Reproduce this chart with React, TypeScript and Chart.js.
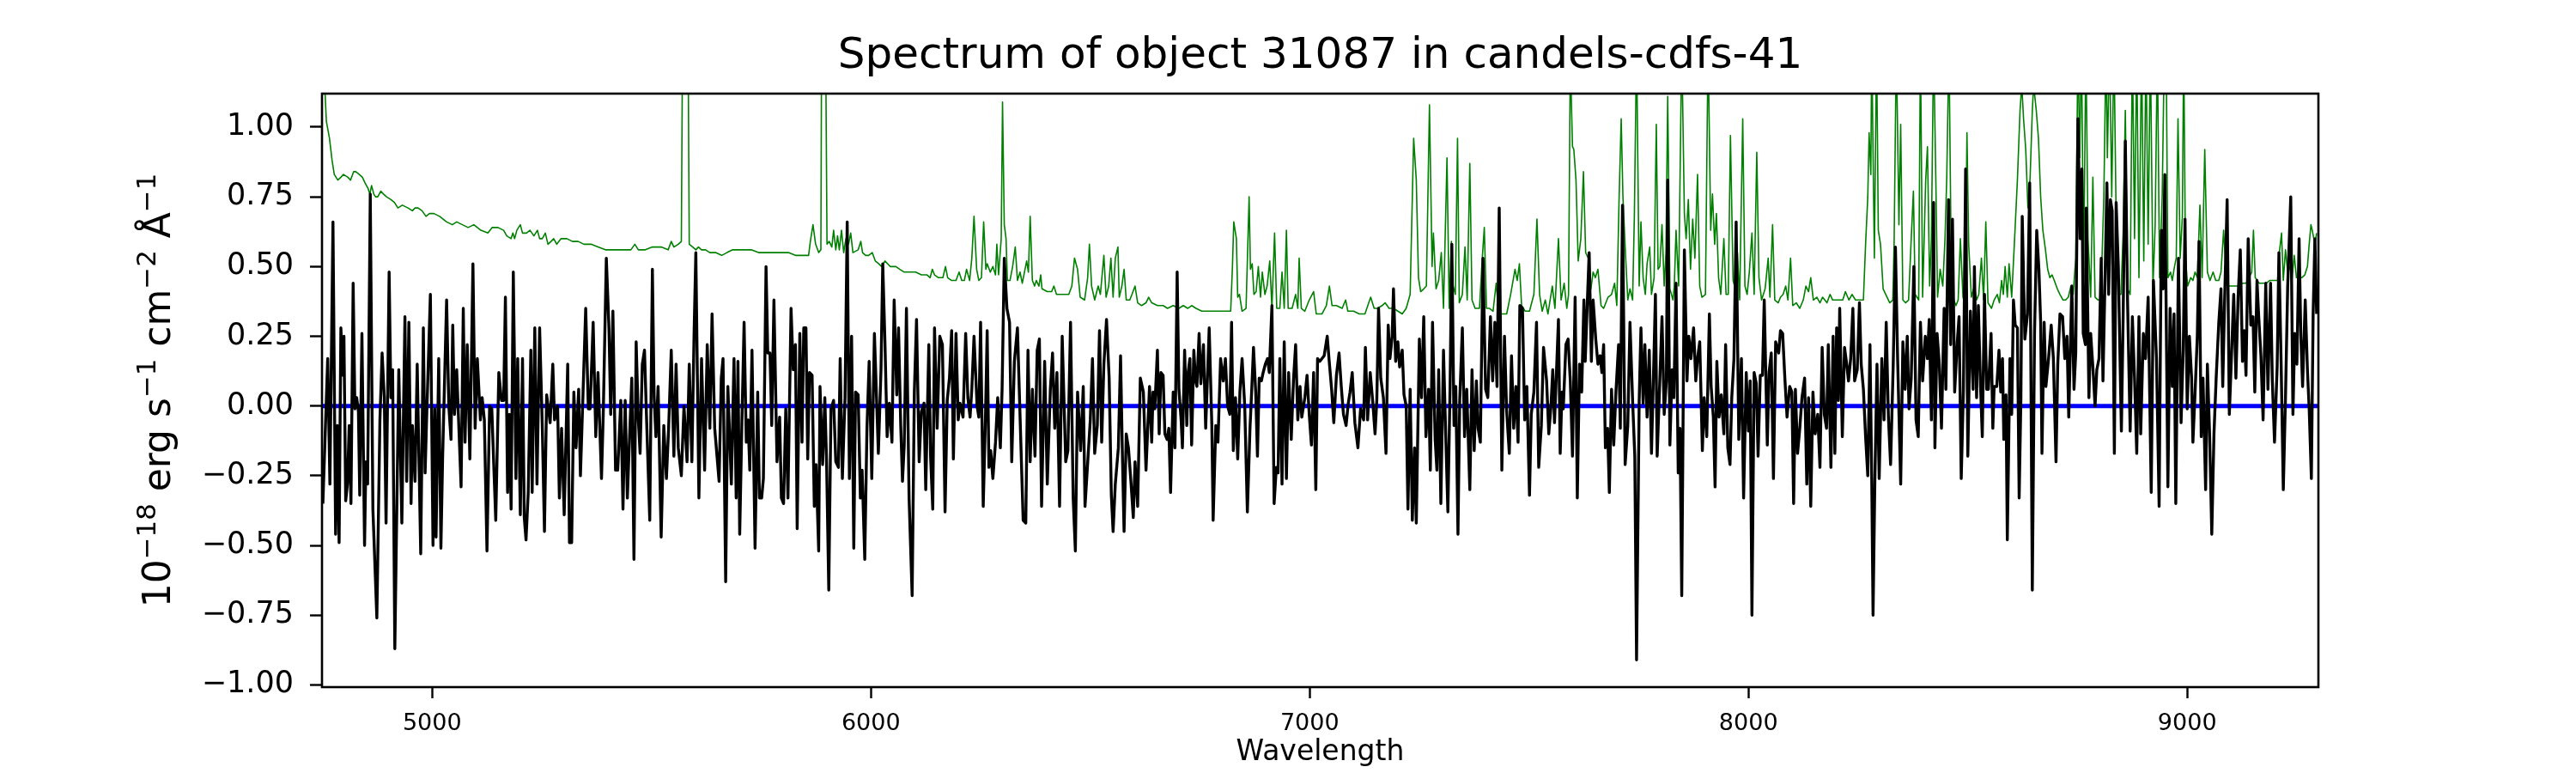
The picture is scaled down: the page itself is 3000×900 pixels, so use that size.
import React, { useEffect, useRef } from 'react';
import { Chart, registerables } from 'chart.js';

Chart.register(...registerables);

const FONT = "'DejaVu Sans', 'Liberation Sans', sans-serif";
const TITLE = 'Spectrum of object 31087 in candels-cdfs-41';
const X_LABEL = 'Wavelength';
const Y_LABEL_PARTS: { text: string; sup: boolean }[] = [
  { text: '10', sup: false },
  { text: '\u221218', sup: true },
  { text: ' erg s', sup: false },
  { text: '\u22121', sup: true },
  { text: ' cm', sup: false },
  { text: '\u22122', sup: true },
  { text: ' \u00C5', sup: false },
  { text: '\u22121', sup: true },
];
const X_TICKS = [5000, 6000, 7000, 8000, 9000];
const Y_TICKS = [-1, -0.75, -0.5, -0.25, 0, 0.25, 0.5, 0.75, 1];
const X_RANGE = [4749, 9299];
const Y_RANGE = [-1.008, 1.12];

// observed flux (black)
const fluxPoints: [number, number][] = [
[4751,-0.35],[4762,0.17],[4767,-0.28],[4774,0.66],[4780,-0.46],[4784,-0.07],[4788,-0.49],[4792,0.28],[4797,0.11],[4799,0.25],[4803,-0.34],[4807,-0.28],[4811,-0.07],[4815,-0.35],[4820,0.44],[4824,-0.01],[4828,0.03],[4832,-0.02],[4835,-0.32],[4840,0.26],[4846,-0.50],[4849,-0.20],[4853,-0.28],[4859,0.76],[4865,-0.37],[4874,-0.76],[4881,-0.05],[4886,0.19],[4891,0.03],[4895,-0.42],[4902,0.48],[4906,0.03],[4910,0.13],[4915,-0.87],[4924,0.13],[4931,-0.42],[4938,0.32],[4942,-0.27],[4947,0.30],[4952,-0.35],[4955,-0.07],[4961,-0.27],[4966,0.15],[4974,-0.53],[4980,0.28],[4984,-0.24],[4987,-0.07],[4996,0.40],[5002,-0.50],[5006,-0.01],[5009,-0.47],[5015,0.17],[5020,-0.51],[5024,-0.18],[5033,0.38],[5038,0.00],[5043,-0.12],[5047,0.29],[5051,-0.03],[5056,0.13],[5066,-0.29],[5071,0.35],[5075,-0.13],[5080,0.22],[5086,-0.19],[5093,0.51],[5098,-0.08],[5103,0.17],[5110,-0.05],[5114,0.03],[5119,-0.05],[5125,-0.52],[5131,0.00],[5136,-0.01],[5140,-0.19],[5145,-0.41],[5152,0.12],[5158,0.02],[5163,0.02],[5167,0.39],[5172,-0.31],[5176,-0.03],[5180,-0.37],[5185,0.48],[5191,-0.26],[5195,0.17],[5201,-0.39],[5206,0.17],[5210,-0.40],[5214,-0.48],[5219,-0.31],[5225,0.20],[5228,-0.31],[5234,0.28],[5239,-0.28],[5245,0.28],[5251,-0.07],[5256,-0.45],[5261,0.04],[5269,-0.06],[5275,0.15],[5279,-0.05],[5286,0.00],[5290,-0.33],[5295,-0.08],[5301,-0.39],[5309,0.15],[5313,-0.49],[5318,-0.49],[5323,0.05],[5328,-0.15],[5334,0.06],[5338,-0.25],[5344,0.05],[5350,0.35],[5356,-0.01],[5360,-0.01],[5367,0.30],[5373,-0.11],[5378,0.12],[5386,-0.26],[5390,-0.03],[5397,0.53],[5403,0.28],[5407,-0.03],[5412,0.34],[5418,-0.23],[5423,-0.23],[5430,0.02],[5435,-0.37],[5440,0.02],[5445,-0.33],[5450,-0.11],[5455,0.10],[5460,-0.55],[5465,0.23],[5470,-0.05],[5474,-0.17],[5479,0.15],[5484,0.20],[5489,-0.06],[5496,-0.41],[5502,0.49],[5506,0.03],[5510,-0.11],[5515,0.07],[5522,-0.47],[5528,-0.07],[5534,-0.26],[5539,-0.08],[5545,0.20],[5551,-0.18],[5556,0.15],[5561,-0.15],[5568,-0.25],[5574,0.00],[5581,-0.20],[5586,0.15],[5592,-0.20],[5597,0.26],[5601,0.55],[5608,-0.33],[5614,0.17],[5621,-0.23],[5627,0.22],[5633,-0.08],[5638,0.33],[5644,-0.08],[5654,-0.27],[5659,0.10],[5663,0.17],[5669,-0.63],[5674,0.07],[5682,-0.28],[5688,0.17],[5693,-0.33],[5697,0.16],
[5701,-0.46],[5706,-0.06],[5711,0.30],[5716,-0.13],[5720,-0.05],[5724,-0.23],[5729,0.20],[5736,-0.51],[5742,0.05],[5746,-0.33],[5751,-0.33],[5755,-0.26],[5761,0.50],[5765,0.19],[5770,0.19],[5774,-0.07],[5779,0.38],[5786,-0.20],[5792,-0.04],[5796,-0.33],[5801,-0.35],[5806,-0.01],[5811,-0.33],[5818,0.35],[5823,0.13],[5828,0.22],[5832,-0.44],[5838,0.26],[5843,-0.13],[5847,0.28],[5852,0.28],[5856,-0.19],[5860,0.12],[5866,0.11],[5871,-0.36],[5875,-0.21],[5881,-0.52],[5884,0.07],[5890,-0.21],[5895,0.03],[5899,-0.20],[5904,-0.66],[5909,-0.01],[5915,0.02],[5920,-0.20],[5926,-0.22],[5930,0.17],[5935,-0.26],[5941,0.03],[5946,0.66],[5951,-0.26],[5956,0.25],[5961,-0.51],[5965,0.05],[5971,0.04],[5976,-0.33],[5980,-0.23],[5986,-0.55],[5991,-0.08],[5996,0.16],[6002,-0.26],[6008,0.26],[6012,0.07],[6017,-0.17],[6023,0.13],[6027,0.51],[6032,0.23],[6037,-0.11],[6042,0.01],[6048,-0.13],[6053,0.38],[6059,0.04],[6063,0.28],[6068,-0.07],[6072,-0.27],[6076,-0.14],[6081,0.35],[6087,-0.33],[6094,-0.68],[6099,0.05],[6104,0.31],[6110,-0.20],[6115,-0.02],[6121,0.01],[6125,-0.30],[6132,0.22],[6136,-0.18],[6141,-0.37],[6145,0.28],[6151,-0.08],[6157,0.25],[6163,0.22],[6169,-0.38],[6174,0.02],[6179,0.10],[6184,0.27],[6188,-0.19],[6194,0.26],[6199,-0.05],[6203,0.01],[6210,-0.04],[6216,0.26],[6221,0.03],[6226,-0.04],[6230,0.06],[6235,0.25],[6242,0.00],[6246,-0.04],[6250,0.30],[6256,-0.36],[6261,-0.05],[6265,0.27],[6269,-0.22],[6273,-0.16],[6278,-0.26],[6284,-0.13],[6289,0.03],[6295,-0.15],[6299,0.06],[6304,0.53],[6310,0.35],[6316,0.30],[6321,-0.20],[6327,0.16],[6334,0.28],[6340,-0.04],[6347,-0.41],[6353,-0.42],[6358,0.20],[6363,-0.20],[6368,0.06],[6374,-0.18],[6379,0.20],[6384,0.24],[6389,-0.36],[6396,0.16],[6402,-0.28],[6409,0.06],[6414,0.19],[6419,-0.08],[6424,0.12],[6430,-0.36],[6436,0.25],[6444,-0.20],[6449,-0.16],[6455,0.30],[6461,-0.33],[6466,-0.52],[6471,0.05],[6478,-0.16],[6484,0.07],[6488,-0.36],[6495,-0.18],[6500,-0.05],[6505,0.17],[6510,-0.17],[6516,-0.07],[6521,0.27],[6526,-0.13],[6531,0.15],[6537,0.31],[6543,0.10],[6548,-0.32],[6552,-0.45],[6557,-0.28],[6564,-0.15],[6569,0.18],[6573,-0.16],[6577,-0.45],[6582,-0.10],[6587,-0.15],[6593,-0.28],[6598,-0.40],[6602,-0.20],[6608,-0.36],[6614,0.10],[6621,0.05],[6627,-0.23],[6635,0.07],
[6640,-0.13],[6643,0.05],[6647,-0.01],[6653,0.20],[6657,-0.10],[6661,0.12],[6666,0.11],[6670,-0.10],[6675,-0.12],[6679,-0.08],[6683,-0.31],[6689,0.05],[6693,-0.15],[6698,0.48],[6702,0.06],[6707,-0.05],[6710,-0.15],[6715,0.20],[6720,-0.07],[6723,0.12],[6727,0.17],[6731,-0.14],[6736,0.20],[6740,0.09],[6743,0.07],[6748,0.26],[6752,0.08],[6758,0.22],[6763,-0.08],[6771,0.28],[6777,-0.07],[6780,-0.41],[6786,-0.07],[6791,-0.13],[6797,0.17],[6803,0.09],[6808,0.17],[6813,0.00],[6818,-0.03],[6822,0.30],[6826,-0.16],[6831,0.03],[6836,-0.19],[6841,0.05],[6846,0.17],[6852,0.00],[6858,-0.38],[6864,-0.08],[6868,0.06],[6872,0.21],[6877,0.05],[6881,-0.18],[6885,0.10],[6890,0.09],[6894,0.12],[6899,0.15],[6904,0.17],[6908,0.12],[6914,0.36],[6919,-0.35],[6924,-0.22],[6928,-0.24],[6932,0.17],[6937,-0.28],[6942,0.23],[6947,-0.26],[6952,0.12],[6958,-0.12],[6963,0.09],[6968,0.22],[6973,-0.05],[6978,0.07],[6982,-0.04],[6989,0.03],[6994,0.11],[6999,-0.03],[7004,-0.14],[7009,0.12],[7014,-0.30],[7018,0.17],[7023,0.16],[7028,0.17],[7033,0.18],[7040,0.25],[7044,0.17],[7050,0.06],[7055,-0.06],[7061,0.11],[7067,0.19],[7072,0.07],[7077,-0.03],[7083,-0.07],[7088,0.01],[7092,0.05],[7097,0.12],[7103,-0.06],[7110,-0.15],[7116,-0.01],[7123,-0.05],[7127,0.21],[7132,-0.05],[7138,0.12],[7144,0.01],[7149,-0.10],[7153,0.02],[7157,0.35],[7162,0.10],[7168,0.03],[7174,-0.17],[7179,0.29],[7183,0.17],[7188,0.25],[7191,0.42],[7196,0.16],[7201,0.23],[7205,0.14],[7211,0.20],[7215,0.04],[7220,0.00],[7224,-0.37],[7229,0.06],[7234,-0.41],[7239,-0.15],[7243,-0.42],[7250,0.24],[7255,0.03],[7260,0.32],[7265,-0.11],[7271,0.06],[7275,-0.23],[7280,0.30],[7286,-0.12],[7290,-0.23],[7294,0.13],[7299,-0.35],[7305,0.20],[7310,-0.10],[7315,-0.38],[7320,0.07],[7324,0.58],[7329,-0.07],[7333,0.07],[7338,-0.46],[7342,0.02],[7348,0.28],[7353,-0.11],[7358,0.06],[7365,-0.30],[7370,0.13],[7375,-0.16],[7380,0.09],[7384,-0.08],[7389,-0.13],[7395,0.53],[7401,0.06],[7406,0.03],[7412,0.32],[7417,0.09],[7422,0.30],[7427,0.07],[7432,0.71],[7438,-0.23],[7444,0.25],[7449,-0.02],[7455,-0.17],[7460,0.18],[7465,-0.08],[7470,0.07],[7475,-0.13],[7479,0.36],[7485,0.35],[7490,-0.05],[7495,0.07],[7501,-0.32],[7505,-0.03],[7511,0.05],[7517,0.30],[7522,-0.22],[7528,-0.07],[7533,0.21],[7540,0.09],[7545,-0.10],[7550,0.00],[7554,0.13],[7558,-0.06],[7561,0.06],[7567,0.31],[7571,-0.17],[7575,0.05],
[7578,-0.01],[7584,0.22],[7589,0.24],[7594,0.09],[7599,-0.18],[7605,0.39],[7610,-0.33],[7615,0.15],[7620,0.05],[7625,0.38],[7628,0.16],[7633,0.38],[7637,0.55],[7642,0.16],[7646,0.38],[7652,0.24],[7657,0.15],[7662,0.18],[7666,0.12],[7670,0.22],[7674,-0.15],[7679,-0.08],[7683,-0.31],[7688,0.06],[7693,-0.14],[7698,0.05],[7704,0.22],[7708,-0.08],[7713,0.72],[7719,-0.21],[7725,-0.07],[7730,0.30],[7736,0.02],[7741,-0.18],[7745,-0.91],[7751,0.02],[7755,0.28],[7760,0.01],[7764,0.22],[7769,-0.04],[7774,0.20],[7779,-0.17],[7785,0.20],[7788,0.40],[7792,-0.18],[7798,0.09],[7803,0.32],[7808,-0.03],[7813,0.09],[7816,0.81],[7821,-0.14],[7826,0.13],[7830,0.03],[7835,0.44],[7840,-0.24],[7844,-0.08],[7848,-0.68],[7854,0.56],[7860,0.09],[7864,0.25],[7869,0.17],[7875,0.28],[7880,0.09],[7884,0.17],[7889,0.23],[7895,-0.16],[7899,0.03],[7905,-0.11],[7911,0.33],[7915,0.07],[7920,-0.04],[7924,-0.29],[7928,0.16],[7933,-0.04],[7938,0.04],[7944,-0.10],[7948,0.22],[7953,-0.15],[7958,-0.21],[7962,0.03],[7967,0.17],[7972,0.66],[7978,-0.12],[7984,0.17],[7989,-0.33],[7995,0.12],[8000,-0.09],[8004,0.09],[8008,-0.75],[8013,0.12],[8018,0.08],[8022,-0.18],[8027,0.11],[8032,0.11],[8036,0.38],[8043,-0.14],[8047,0.12],[8052,0.19],[8057,-0.26],[8062,0.23],[8069,0.19],[8073,0.27],[8078,0.26],[8083,0.10],[8088,-0.04],[8094,0.07],[8099,0.05],[8103,-0.35],[8107,0.06],[8112,-0.17],[8117,-0.08],[8122,0.03],[8128,0.10],[8133,-0.28],[8137,0.03],[8142,-0.36],[8147,0.05],[8152,-0.10],[8158,-0.03],[8163,-0.22],[8168,0.21],[8173,-0.03],[8178,-0.08],[8182,0.22],[8188,-0.22],[8193,0.25],[8197,-0.17],[8201,0.28],[8205,0.02],[8208,0.35],[8214,-0.11],[8219,0.21],[8224,0.15],[8228,0.09],[8233,0.17],[8238,0.35],[8242,0.09],[8248,0.13],[8253,0.37],[8257,0.15],[8262,0.06],[8267,-0.11],[8272,-0.25],[8277,0.22],[8281,-0.26],[8284,-0.75],[8288,-0.28],[8293,0.15],[8298,-0.26],[8304,0.17],[8309,-0.05],[8314,0.30],[8319,-0.04],[8324,-0.21],[8330,0.15],[8335,0.57],[8340,0.17],[8347,-0.28],[8352,0.23],[8357,0.06],[8362,0.25],[8366,-0.01],[8371,0.10],[8377,0.50],[8382,-0.05],[8387,-0.11],[8392,0.30],[8397,0.09],[8403,0.25],[8408,0.17],[8412,0.31],[8417,-0.05],[8422,0.73],[8425,-0.15],[8430,0.26],[8435,0.15],[8440,-0.08],[8446,0.35],[8450,0.06],[8456,0.74],[8461,0.22],[8465,0.67],[8470,0.05],[8476,0.23],[8480,0.32],[8485,-0.26],[8490,0.06],[8495,0.85],[8500,-0.18],[8506,0.34],[8512,0.06],
[8515,0.50],[8520,0.03],[8524,0.36],[8529,0.07],[8533,-0.11],[8538,0.40],[8543,0.06],[8547,0.06],[8553,0.26],[8557,-0.08],[8560,0.07],[8566,0.07],[8571,0.20],[8575,0.05],[8579,0.17],[8582,-0.12],[8587,0.04],[8590,-0.48],[8596,0.17],[8600,-0.03],[8604,0.38],[8608,0.29],[8613,0.28],[8617,-0.33],[8621,0.03],[8624,0.68],[8630,0.24],[8636,0.33],[8641,0.80],[8647,-0.66],[8652,0.26],[8657,0.63],[8662,0.49],[8666,0.30],[8669,-0.17],[8674,0.30],[8678,0.07],[8684,0.17],[8690,0.29],[8695,0.17],[8701,-0.20],[8705,0.15],[8710,0.33],[8716,0.32],[8721,0.17],[8726,0.25],[8730,-0.04],[8737,0.43],[8742,0.06],[8746,0.19],[8751,1.03],[8756,0.60],[8760,0.85],[8763,0.26],[8768,0.22],[8770,0.71],[8776,0.03],[8780,0.26],[8785,0.14],[8790,0.00],[8794,0.13],[8799,0.17],[8804,0.53],[8808,0.09],[8812,0.40],[8817,0.80],[8821,0.40],[8825,0.74],[8829,0.70],[8834,-0.17],[8838,0.73],[8843,0.50],[8850,-0.09],[8854,0.32],[8859,0.95],[8864,0.38],[8870,-0.09],[8875,0.32],[8880,0.10],[8885,-0.17],[8890,0.32],[8894,-0.10],[8900,0.26],[8905,0.17],[8911,0.39],[8918,-0.31],[8923,0.45],[8930,0.17],[8936,-0.36],[8941,0.63],[8945,0.42],[8949,0.83],[8956,-0.29],[8961,0.35],[8966,0.07],[8970,0.33],[8974,-0.35],[8980,0.53],[8986,-0.06],[8991,0.20],[8995,0.67],[9000,-0.01],[9005,0.25],[9010,0.10],[9013,-0.13],[9018,0.05],[9023,0.25],[9027,0.59],[9032,-0.11],[9036,0.10],[9042,-0.30],[9046,0.15],[9051,-0.10],[9056,-0.46],[9061,-0.10],[9066,0.10],[9072,0.30],[9077,0.42],[9081,0.07],[9085,0.36],[9091,0.74],[9096,-0.03],[9100,0.14],[9106,0.40],[9111,0.10],[9116,0.39],[9121,0.56],[9126,0.16],[9130,0.27],[9134,0.11],[9139,0.60],[9145,0.29],[9150,0.32],[9154,0.05],[9159,0.45],[9163,0.32],[9168,0.18],[9173,-0.05],[9179,0.44],[9184,0.06],[9190,0.44],[9194,0.09],[9199,-0.13],[9205,0.14],[9209,0.55],[9214,0.16],[9219,-0.30],[9224,0.03],[9229,0.43],[9236,0.75],[9241,-0.03],[9245,0.26],[9250,0.15],[9255,0.60],[9259,0.25],[9263,0.07],[9269,0.38],[9274,0.13],[9278,-0.01],[9283,-0.26],[9287,0.33],[9291,0.60],[9295,0.33],
];

// flux uncertainty (green)
const errorPoints: [number, number][] = [
[4749,1.3],[4756,1.12],[4759,1.02],[4766,0.96],[4772,0.88],[4777,0.83],[4785,0.81],[4792,0.82],[4798,0.83],[4808,0.82],[4814,0.81],[4821,0.84],[4826,0.84],[4834,0.83],[4841,0.82],[4847,0.80],[4854,0.78],[4858,0.76],[4862,0.79],[4867,0.76],[4871,0.75],[4876,0.75],[4883,0.77],[4889,0.76],[4896,0.75],[4906,0.74],[4914,0.73],[4922,0.71],[4932,0.72],[4945,0.71],[4955,0.70],[4961,0.71],[4968,0.71],[4977,0.70],[4986,0.68],[4994,0.69],[5004,0.69],[5017,0.68],[5033,0.66],[5046,0.65],[5056,0.66],[5069,0.65],[5082,0.64],[5095,0.65],[5111,0.63],[5127,0.62],[5137,0.64],[5150,0.64],[5163,0.63],[5170,0.61],[5180,0.60],[5184,0.62],[5188,0.60],[5193,0.63],[5201,0.65],[5206,0.62],[5215,0.62],[5223,0.63],[5232,0.61],[5240,0.63],[5245,0.60],[5251,0.60],[5258,0.62],[5264,0.58],[5271,0.59],[5277,0.60],[5284,0.58],[5294,0.60],[5307,0.60],[5320,0.59],[5333,0.59],[5346,0.58],[5362,0.58],[5378,0.57],[5395,0.56],[5408,0.56],[5424,0.56],[5444,0.56],[5453,0.56],[5462,0.58],[5470,0.56],[5486,0.56],[5502,0.57],[5522,0.57],[5538,0.56],[5545,0.59],[5551,0.57],[5561,0.58],[5568,0.59],[5571,1.4],[5574,2.0],[5579,2.0],[5583,1.4],[5586,0.58],[5594,0.57],[5601,0.56],[5607,0.57],[5614,0.56],[5623,0.56],[5633,0.55],[5646,0.55],[5660,0.54],[5672,0.55],[5685,0.56],
[5701,0.56],[5718,0.56],[5727,0.56],[5744,0.55],[5763,0.55],[5780,0.55],[5796,0.55],[5812,0.55],[5828,0.54],[5848,0.54],[5858,0.54],[5862,0.59],[5868,0.65],[5874,0.58],[5881,0.55],[5886,0.56],[5888,1.5],[5892,1.8],[5896,1.5],[5900,0.58],[5905,0.59],[5911,0.57],[5915,0.63],[5920,0.56],[5924,0.61],[5928,0.56],[5933,0.63],[5938,0.55],[5943,0.60],[5949,0.58],[5954,0.62],[5959,0.55],[5971,0.56],[5977,0.59],[5981,0.55],[5988,0.54],[5995,0.54],[6003,0.55],[6010,0.52],[6018,0.51],[6024,0.50],[6032,0.52],[6044,0.50],[6057,0.50],[6066,0.49],[6076,0.48],[6089,0.48],[6102,0.48],[6115,0.47],[6128,0.47],[6135,0.46],[6140,0.49],[6145,0.47],[6154,0.46],[6164,0.46],[6170,0.50],[6175,0.46],[6184,0.45],[6194,0.45],[6201,0.48],[6207,0.45],[6213,0.45],[6218,0.49],[6225,0.45],[6230,0.53],[6235,0.68],[6241,0.49],[6246,0.45],[6252,0.46],[6257,0.66],[6262,0.49],[6265,0.51],[6272,0.48],[6278,0.50],[6284,0.47],[6287,0.58],[6291,0.47],[6297,0.60],[6300,1.09],[6304,0.65],[6308,0.60],[6311,0.45],[6317,0.45],[6323,0.50],[6329,0.57],[6334,0.45],[6340,0.48],[6345,0.44],[6350,0.48],[6355,0.52],[6359,0.48],[6363,0.68],[6368,0.45],[6373,0.43],[6377,0.45],[6383,0.43],[6387,0.47],[6390,0.42],[6402,0.41],[6412,0.41],[6417,0.43],[6423,0.40],[6432,0.40],[6441,0.40],[6451,0.40],[6458,0.43],[6464,0.53],[6471,0.49],[6477,0.39],[6487,0.38],[6494,0.46],[6498,0.58],[6503,0.43],[6510,0.38],[6518,0.43],[6523,0.40],[6531,0.54],[6536,0.39],[6542,0.43],[6547,0.53],[6552,0.39],[6557,0.53],[6563,0.57],[6566,0.39],[6572,0.43],[6577,0.49],[6582,0.38],[6590,0.38],[6595,0.40],[6602,0.43],[6608,0.37],[6617,0.36],[6627,0.37],[6633,0.39],
[6640,0.37],[6653,0.36],[6666,0.36],[6676,0.35],[6689,0.36],[6702,0.35],[6712,0.36],[6722,0.35],[6731,0.36],[6741,0.35],[6754,0.34],[6767,0.34],[6780,0.34],[6793,0.34],[6806,0.34],[6820,0.34],[6824,0.50],[6827,0.66],[6833,0.60],[6836,0.39],[6840,0.40],[6846,0.34],[6855,0.35],[6862,0.75],[6865,0.49],[6869,0.51],[6873,0.40],[6878,0.41],[6883,0.50],[6888,0.39],[6892,0.48],[6898,0.40],[6903,0.43],[6909,0.52],[6914,0.35],[6920,0.62],[6925,0.35],[6932,0.35],[6937,0.48],[6942,0.35],[6947,0.63],[6951,0.35],[6960,0.35],[6968,0.40],[6973,0.35],[6976,0.53],[6981,0.35],[6989,0.34],[6999,0.38],[7009,0.41],[7015,0.33],[7028,0.33],[7038,0.36],[7045,0.43],[7051,0.36],[7061,0.36],[7074,0.35],[7082,0.38],[7087,0.34],[7100,0.34],[7113,0.33],[7126,0.33],[7139,0.39],[7147,0.35],[7155,0.35],[7165,0.36],[7172,0.37],[7181,0.35],[7191,0.35],[7201,0.34],[7211,0.33],[7220,0.35],[7229,0.40],[7237,0.96],[7243,0.81],[7248,0.46],[7253,0.41],[7260,0.42],[7266,0.43],[7273,1.08],[7279,0.50],[7282,0.62],[7288,0.42],[7294,0.45],[7300,0.55],[7305,0.35],[7313,0.89],[7318,0.35],[7323,0.59],[7327,0.43],[7332,0.40],[7337,0.96],[7341,0.37],[7348,0.40],[7354,0.57],[7359,0.38],[7365,0.87],[7370,0.38],[7377,0.35],[7387,0.35],[7393,0.52],[7398,0.64],[7403,0.35],[7410,0.35],[7418,0.34],[7425,0.44],[7431,0.33],[7439,0.33],[7449,0.33],[7458,0.40],[7468,0.49],[7473,0.45],[7478,0.51],[7483,0.36],[7491,0.34],[7501,0.34],[7511,0.40],[7518,0.67],[7524,0.40],[7530,0.34],[7537,0.38],[7543,0.33],[7553,0.43],[7559,0.35],[7567,0.60],[7573,0.38],
[7580,0.44],[7586,0.35],[7590,0.40],[7594,1.25],[7599,0.93],[7602,0.92],[7607,0.81],[7612,0.52],[7618,0.60],[7624,0.84],[7629,0.55],[7635,0.53],[7641,0.42],[7646,0.48],[7651,0.46],[7657,0.49],[7664,0.36],[7670,0.35],[7680,0.39],[7688,0.40],[7695,0.44],[7700,0.36],[7705,0.73],[7710,1.03],[7714,0.75],[7719,0.57],[7725,0.38],[7730,0.42],[7736,0.38],[7740,0.68],[7745,1.3],[7751,0.43],[7755,0.66],[7760,0.46],[7765,0.40],[7769,0.51],[7775,0.57],[7779,0.40],[7785,0.46],[7790,1.01],[7794,0.49],[7798,0.50],[7803,0.65],[7808,0.43],[7812,0.55],[7816,1.11],[7821,0.42],[7828,0.38],[7831,0.43],[7835,0.63],[7841,0.43],[7848,1.3],[7854,0.69],[7858,0.60],[7863,0.74],[7868,0.49],[7873,0.67],[7878,0.53],[7884,0.83],[7889,0.43],[7894,0.39],[7902,0.40],[7908,1.3],[7914,0.63],[7918,0.76],[7923,0.58],[7927,0.69],[7932,0.46],[7937,0.40],[7944,0.60],[7949,0.40],[7954,0.40],[7959,0.97],[7965,0.45],[7970,0.42],[7975,0.55],[7980,0.38],[7987,1.03],[7992,0.43],[7997,0.40],[8002,0.48],[8008,0.62],[8013,0.40],[8019,0.91],[8024,0.46],[8030,0.38],[8038,0.42],[8045,0.53],[8049,0.39],[8055,0.65],[8060,0.38],[8068,0.37],[8073,0.39],[8079,0.40],[8085,0.43],[8090,0.38],[8096,0.53],[8101,0.36],[8109,0.37],[8117,0.35],[8125,0.38],[8131,0.43],[8137,0.41],[8142,0.46],[8148,0.38],[8156,0.39],[8163,0.37],[8169,0.39],[8179,0.37],[8186,0.40],[8192,0.38],[8199,0.38],[8208,0.38],[8215,0.38],[8221,0.41],[8229,0.38],[8236,0.40],[8244,0.38],[8254,0.38],[8262,0.38],[8267,0.58],[8272,0.75],[8275,0.98],[8279,0.83],[8281,1.3],[8287,0.53],[8292,1.3],[8296,0.63],[8301,0.58],[8307,0.42],[8316,0.39],[8322,0.37],[8329,0.38],[8332,0.58],[8337,1.3],[8343,0.65],[8347,1.01],[8352,0.38],[8358,0.37],[8365,0.38],[8371,0.60],[8376,0.77],[8380,0.40],[8388,0.38],[8392,1.3],[8397,0.39],[8404,0.81],[8408,0.93],[8413,0.43],[8417,0.60],[8422,1.3],[8427,0.82],[8431,0.39],[8437,0.49],[8443,0.43],[8448,0.60],[8452,0.82],[8457,1.3],[8463,0.39],[8468,0.38],[8473,0.36],[8478,0.38],[8483,0.60],[8489,0.39],[8494,0.36],[8498,0.98],[8502,0.58],[8508,0.39],
[8515,0.43],[8520,0.38],[8525,0.40],[8531,0.53],[8536,0.38],[8541,0.66],[8546,0.37],[8554,0.35],[8560,0.38],[8567,0.40],[8572,0.37],[8577,0.45],[8581,0.40],[8585,0.50],[8590,0.39],[8594,0.51],[8600,0.39],[8606,0.58],[8613,0.81],[8619,1.06],[8623,1.15],[8627,1.03],[8632,0.92],[8637,0.71],[8642,0.82],[8647,1.06],[8650,1.15],[8656,1.06],[8661,0.96],[8666,0.75],[8671,0.63],[8677,0.56],[8682,0.49],[8687,0.46],[8692,0.47],[8697,0.45],[8704,0.42],[8710,0.40],[8717,0.38],[8723,0.38],[8729,0.39],[8735,0.43],[8740,0.40],[8746,0.53],[8751,1.3],[8755,0.89],[8759,1.3],[8764,0.46],[8769,1.3],[8774,0.60],[8780,0.39],[8785,0.82],[8790,0.39],[8797,0.38],[8803,0.38],[8810,0.75],[8815,1.3],[8818,0.89],[8823,1.3],[8828,0.75],[8833,1.3],[8838,0.68],[8843,0.40],[8849,0.40],[8854,0.62],[8859,1.06],[8864,0.42],[8870,0.40],[8875,1.3],[8880,0.60],[8885,1.3],[8890,0.46],[8896,1.3],[8901,0.52],[8906,1.3],[8911,0.58],[8916,1.3],[8922,0.43],[8927,0.65],[8932,1.3],[8937,0.46],[8943,0.75],[8948,1.3],[8952,1.3],[8956,0.46],[8962,0.48],[8966,0.45],[8971,0.50],[8975,0.53],[8979,1.03],[8984,0.53],[8989,0.68],[8992,1.3],[8996,0.53],[9001,0.43],[9008,0.46],[9013,0.45],[9018,0.48],[9023,0.46],[9029,0.72],[9034,0.46],[9040,0.92],[9046,0.48],[9052,0.45],[9059,0.48],[9065,0.45],[9072,0.45],[9077,0.48],[9083,0.63],[9089,0.46],[9094,0.43],[9102,0.43],[9108,0.43],[9115,0.43],[9120,0.43],[9126,0.44],[9134,0.44],[9141,0.46],[9147,0.48],[9151,0.63],[9155,0.46],[9164,0.44],[9172,0.44],[9180,0.44],[9188,0.45],[9196,0.45],[9206,0.45],[9210,0.55],[9215,0.62],[9219,0.45],[9224,0.56],[9229,0.48],[9233,0.50],[9239,0.46],[9244,0.54],[9249,0.46],[9255,0.46],[9261,0.46],[9268,0.47],[9274,0.50],[9278,0.58],[9282,0.65],[9285,0.63],[9291,0.58],[9295,0.62],
];

// model (blue)
const modelPoints: [number, number][] = [[4749, 0], [9299, 0]];

const toXY = (pts: [number, number][]) => pts.map(([x, y]) => ({ x, y }));

const fmtY = (v: number) => {
  const s = Math.abs(v).toFixed(2);
  return v < 0 ? '\u2212' + s : s;
};

const framePlugin = {
  id: 'frameBox',
  afterDatasetsDraw(chart: any) {
    const { ctx, chartArea: a } = chart;
    ctx.save();
    ctx.strokeStyle = '#000';
    ctx.lineWidth = 2.6;
    ctx.strokeRect(a.left, a.top, a.right - a.left, a.bottom - a.top);
    ctx.restore();
  },
};

const yLabelPlugin = {
  id: 'yLabelMath',
  afterDraw(chart: any) {
    const { ctx, chartArea: a } = chart;
    const size = 44;
    const supSize = size * 0.7;
    const raise = size * 0.38;
    ctx.save();
    ctx.fillStyle = '#000';
    ctx.textBaseline = 'alphabetic';
    ctx.textAlign = 'left';
    const widths = Y_LABEL_PARTS.map((p) => {
      ctx.font = `${p.sup ? supSize : size}px ${FONT}`;
      return ctx.measureText(p.text).width;
    });
    const total = widths.reduce((s, w) => s + w, 0);
    const cy = (a.top + a.bottom) / 2;
    ctx.translate(a.left - 177, cy);
    ctx.rotate(-Math.PI / 2);
    let x = -total / 2;
    Y_LABEL_PARTS.forEach((p, i) => {
      ctx.font = `${p.sup ? supSize : size}px ${FONT}`;
      ctx.fillText(p.text, x, p.sup ? -raise : 0);
      x += widths[i];
    });
    ctx.restore();
  },
};

export default function App() {
  const ref = useRef<HTMLCanvasElement | null>(null);
  useEffect(() => {
    if (!ref.current) return;
    const chart = new Chart(ref.current, {
      type: 'line',
      data: {
        datasets: [
          {
            label: 'flux',
            data: toXY(fluxPoints),
            borderColor: '#000000',
            borderWidth: 3.4,
            pointRadius: 0,
            tension: 0,
            fill: false,
            borderJoinStyle: 'round',
          },
          {
            label: 'model',
            data: toXY(modelPoints),
            borderColor: '#0000ff',
            borderWidth: 5,
            pointRadius: 0,
            tension: 0,
            fill: false,
          },
          {
            label: 'error',
            data: toXY(errorPoints),
            borderColor: '#008000',
            borderWidth: 1.6,
            pointRadius: 0,
            tension: 0,
            fill: false,
            borderJoinStyle: 'round',
          },
        ],
      },
      options: {
        responsive: false,
        animation: false,
        devicePixelRatio: 1,
        events: [],
        layout: { padding: { left: 75, right: 0, top: 0, bottom: 0 } },
        plugins: {
          legend: { display: false },
          tooltip: { enabled: false },
          title: {
            display: true,
            text: TITLE,
            color: '#000',
            font: { family: FONT, size: 50, weight: 'normal' },
            padding: { top: 36, bottom: 13 },
          },
        },
        scales: {
          x: {
            type: 'linear',
            min: X_RANGE[0],
            max: X_RANGE[1],
            afterBuildTicks: (s: any) => {
              s.ticks = X_TICKS.map((v) => ({ value: v }));
            },
            afterFit: (s: any) => {
              s.height = 100;
            },
            grid: {
              display: true,
              drawOnChartArea: false,
              drawTicks: true,
              tickLength: 13,
              tickWidth: 2.4,
              tickColor: '#000',
            },
            border: { display: false },
            ticks: {
              color: '#000',
              font: { family: FONT, size: 27 },
              padding: 14,
              maxRotation: 0,
              autoSkip: false,
              callback: (v: any) => String(v),
            },
            title: {
              display: true,
              text: X_LABEL,
              color: '#000',
              font: { family: FONT, size: 33 },
              padding: { top: 0, bottom: 4 },
            },
          },
          y: {
            type: 'linear',
            position: 'left',
            min: Y_RANGE[0],
            max: Y_RANGE[1],
            afterBuildTicks: (s: any) => {
              s.ticks = Y_TICKS.map((v) => ({ value: v }));
            },
            afterFit: (s: any) => {
              s.width = 300;
            },
            grid: {
              display: true,
              drawOnChartArea: false,
              drawTicks: true,
              tickLength: 14,
              tickWidth: 2.4,
              tickColor: '#000',
            },
            border: { display: false },
            ticks: {
              color: '#000',
              font: { family: FONT, size: 35 },
              padding: 19,
              autoSkip: false,
              callback: (v: any) => fmtY(Number(v)),
            },
          },
          yRight: {
            type: 'linear',
            position: 'right',
            min: 0,
            max: 1,
            afterFit: (s: any) => {
              s.width = 300;
            },
            grid: { display: false },
            border: { display: false },
            ticks: { display: false },
          },
        },
      },
      plugins: [framePlugin, yLabelPlugin],
    } as any);
    return () => chart.destroy();
  }, []);

  return (
    <div style={{ position: 'absolute', left: 0, top: 0, width: 3000, height: 900, background: '#ffffff' }}>
      <canvas ref={ref} width={3000} height={900} style={{ display: 'block', width: 3000, height: 900 }} />
    </div>
  );
}
